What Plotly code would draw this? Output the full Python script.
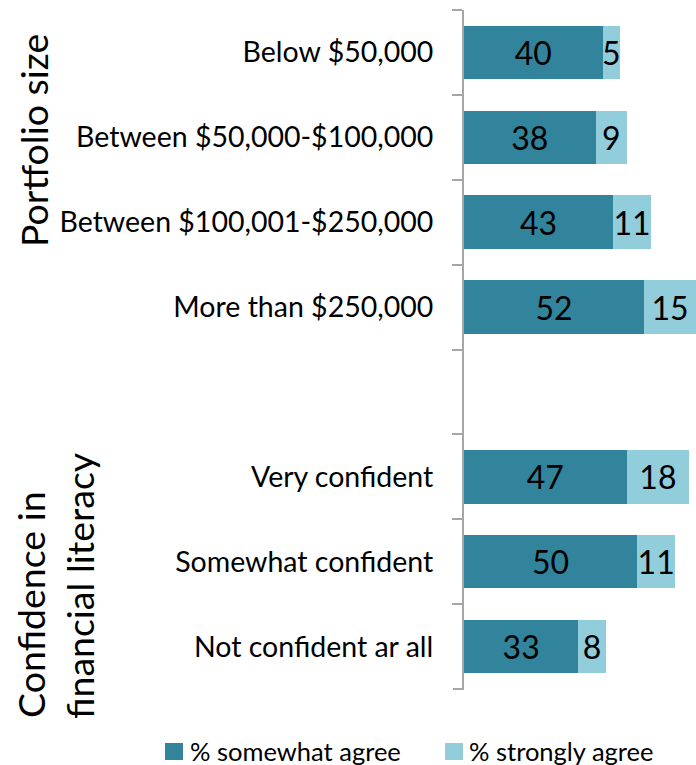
import plotly.graph_objects as go

# Survey results by group (percent of respondents)
categories = [
    "Below $50,000",
    "Between $50,000-$100,000",
    "Between $100,001-$250,000",
    "More than $250,000",
    " ",
    "Very confident",
    "Somewhat confident",
    "Not confident ar all",
]
somewhat_agree = [40, 38, 43, 52, None, 47, 50, 33]
strongly_agree = [5, 9, 11, 15, None, 18, 11, 8]

series_names = ["% somewhat agree", "% strongly agree"]
group_titles = ["Portfolio size", "Confidence in", "financial literacy"]

DARK = "#31849B"
LIGHT = "#92CDDC"
AXIS_GREY = "#A6A6A6"
FONT = "Lato"

W, H = 696, 765
L, R, T, B = 464, 0, 10, 76
PW, PH = W - L - R, H - T - B


def px_x(px):
    return (px - L) / PW


def px_y(py):
    return (H - B - py) / PH


def labels(vals):
    return ["" if v is None else str(v) for v in vals]


fig = go.Figure()
for name, vals, col in [
    (series_names[0], somewhat_agree, DARK),
    (series_names[1], strongly_agree, LIGHT),
]:
    fig.add_trace(go.Bar(
        y=categories, x=vals, orientation="h", name=name,
        marker=dict(color=col, line=dict(width=0)),
        text=labels(vals), textposition="inside", insidetextanchor="middle",
        textfont=dict(family=FONT, size=32, color="#000000"),
        showlegend=False, hoverinfo="skip",
    ))

eps = 1e-6
fig.update_layout(
    width=W, height=H,
    margin=dict(l=L, r=R, t=T, b=B),
    barmode="stack", bargap=0.37,
    plot_bgcolor="white", paper_bgcolor="white",
    uniformtext=dict(minsize=32, mode="show"),
    font=dict(family=FONT, color="#000000"),
    xaxis=dict(visible=False, range=[0, 67], fixedrange=True),
    yaxis=dict(
        type="category", categoryorder="array", categoryarray=categories,
        range=[len(categories) - 0.5 + eps, -0.5 - eps],
        showline=True, linecolor=AXIS_GREY, linewidth=2,
        ticks="outside", tickson="boundaries", ticklen=10,
        tickcolor=AXIS_GREY, tickwidth=2,
        ticklabelstandoff=23,
        tickfont=dict(family=FONT, size=28.5, color="#000000"),
        showgrid=False, zeroline=False,
    ),
)

# Closing tick at the lower end of the category axis
fig.add_shape(type="line", xref="paper", yref="paper",
              x0=px_x(453), x1=px_x(464), y0=0, y1=0,
              line=dict(color=AXIS_GREY, width=2))

# Rotated group titles
title_font = dict(family=FONT, size=37.5, color="#000000")
for text, (cx, cy) in zip(group_titles, [(33, 141), (30, 605), (79, 586)]):
    fig.add_annotation(text=text, textangle=-90, xref="paper", yref="paper",
                       x=px_x(cx), y=px_y(cy), showarrow=False,
                       xanchor="center", yanchor="middle", font=title_font)

# Legend: coloured squares with labels
for (x0, tx), name, col in zip([(165, 188), (445, 467)], series_names, [DARK, LIGHT]):
    fig.add_shape(type="rect", xref="paper", yref="paper",
                  x0=px_x(x0), x1=px_x(x0 + 18), y0=px_y(760), y1=px_y(743),
                  fillcolor=col, line=dict(width=0))
    fig.add_annotation(text=name, xref="paper", yref="paper",
                       x=px_x(tx), y=px_y(751), showarrow=False,
                       xanchor="left", yanchor="middle",
                       font=dict(family=FONT, size=25.5, color="#000000"))

fig.write_html("out.html")
